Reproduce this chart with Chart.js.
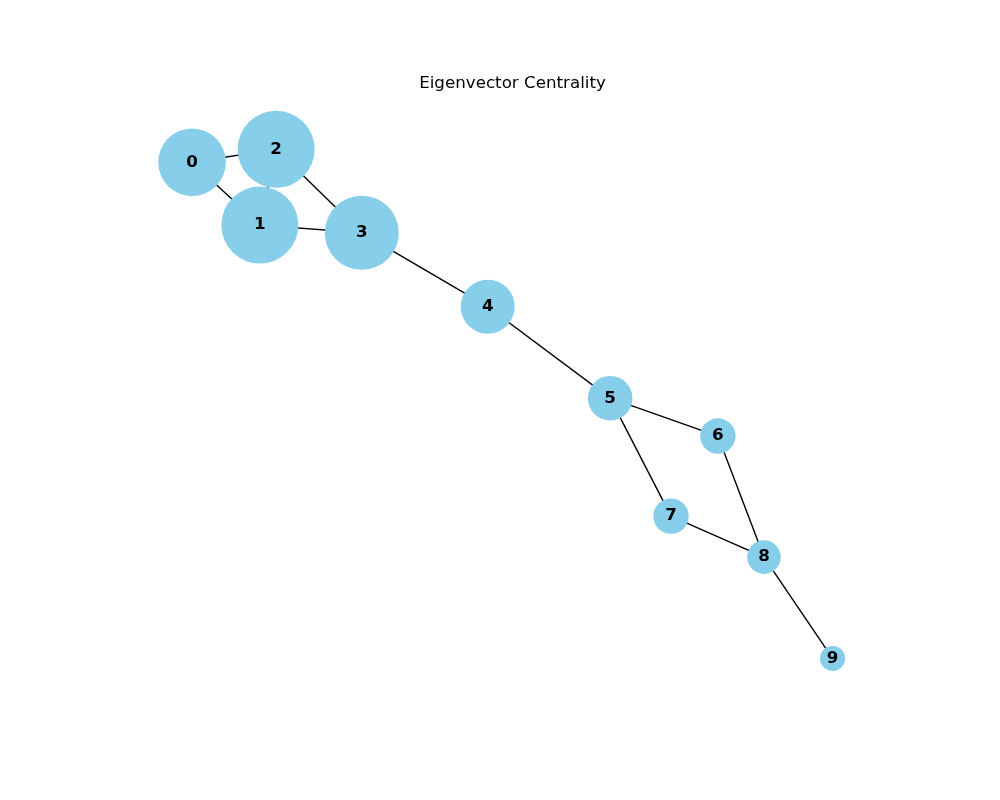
<!DOCTYPE html>
<html>
<head>
<meta charset="utf-8">
<title>Eigenvector Centrality</title>
<script src="https://cdn.jsdelivr.net/npm/chart.js@4"></script>
<style>
  html, body { margin: 0; padding: 0; background: #ffffff; }
  #wrap { width: 1000px; height: 800px; }
</style>
</head>
<body>
<div id="wrap"><canvas id="graphChart" width="1000" height="800"></canvas></div>
<script>
// Node ids and their layout positions
const nodeIds = ['0', '1', '2', '3', '4', '5', '6', '7', '8', '9'];
const nodeX = [-0.827, -0.652, -0.610, -0.389, -0.064, 0.252, 0.530, 0.409, 0.649, 0.826];
const nodeY = [0.785, 0.581, 0.827, 0.556, 0.316, 0.019, -0.104, -0.364, -0.497, -0.826];

// Eigenvector centrality per node (drives the node size)
const centrality = [0.474, 0.615, 0.615, 0.568, 0.302, 0.206, 0.130, 0.130, 0.117, 0.065];

// Graph edges as pairs of node indices
const edgeFrom = [0, 0, 1, 1, 2, 3, 4, 5, 5, 6, 7, 8];
const edgeTo   = [1, 2, 2, 3, 3, 4, 5, 6, 7, 8, 8, 9];

const NODE_SIZE_SCALE = 5000; // marker area in pt^2 per unit centrality
const NODE_COLOR = '#87ceeb';

// marker area (pt^2) -> radius in px at 100 dpi
function nodeRadius(c) {
  return Math.sqrt(c * NODE_SIZE_SCALE) * (100 / 72) / 2;
}

const nodePoints = nodeIds.map((id, i) => ({ x: nodeX[i], y: nodeY[i], r: nodeRadius(centrality[i]) }));

const edgeDatasets = edgeFrom.map((a, i) => {
  const b = edgeTo[i];
  return {
    type: 'line',
    label: 'edge ' + a + '-' + b,
    data: [{ x: nodeX[a], y: nodeY[a] }, { x: nodeX[b], y: nodeY[b] }],
    borderColor: '#000000',
    borderWidth: 1.4,
    pointRadius: 0,
    fill: false,
    tension: 0
  };
});

// Draw the node numbers on top of the bubbles
const nodeLabelPlugin = {
  id: 'nodeLabels',
  afterDatasetsDraw(chart) {
    const ctx = chart.ctx;
    const meta = chart.getDatasetMeta(0);
    ctx.save();
    ctx.font = 'bold 16.7px "DejaVu Sans"';
    ctx.fillStyle = '#000000';
    ctx.textAlign = 'center';
    ctx.textBaseline = 'middle';
    meta.data.forEach((el, i) => {
      ctx.fillText(nodeIds[i], el.x, el.y);
    });
    ctx.restore();
  }
};

const ctx = document.getElementById('graphChart').getContext('2d');
new Chart(ctx, {
  type: 'bubble',
  data: {
    datasets: [{
      label: 'Nodes',
      data: nodePoints,
      backgroundColor: NODE_COLOR,
      borderWidth: 0,
      hoverBorderWidth: 0
    }].concat(edgeDatasets)
  },
  options: {
    responsive: false,
    animation: false,
    devicePixelRatio: 1,
    events: [],
    layout: {
      padding: { top: 60, left: 125, right: 100, bottom: 88 }
    },
    plugins: {
      legend: { display: false },
      tooltip: { enabled: false },
      title: {
        display: true,
        text: 'Eigenvector Centrality',
        color: '#000000',
        font: { family: '"DejaVu Sans"', size: 16.7, weight: 'normal' },
        padding: { top: 14, bottom: 2 }
      }
    },
    scales: {
      x: { type: 'linear', min: -1, max: 1, display: false },
      y: { type: 'linear', min: -1, max: 1, display: false }
    }
  },
  plugins: [nodeLabelPlugin]
});
</script>
</body>
</html>
